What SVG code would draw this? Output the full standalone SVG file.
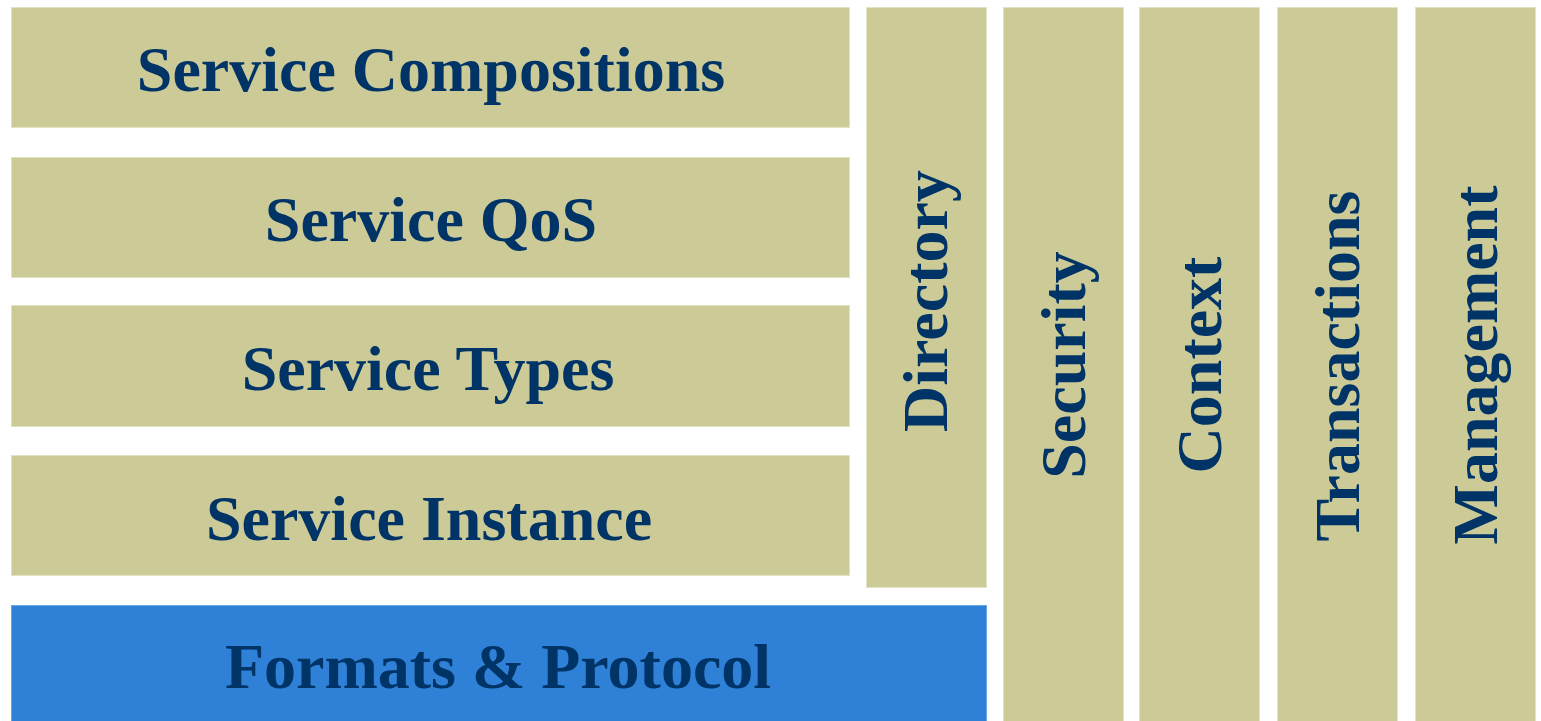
<svg xmlns="http://www.w3.org/2000/svg" width="1541" height="721" viewBox="0 0 1541 721">
<style>
.box{fill:#cccb98;stroke:#e2e2c4;stroke-width:1}
.blue{fill:#2e81d6;stroke:#6aa6e6;stroke-width:1}
.t{font-family:"Liberation Serif","Times New Roman",serif;font-weight:bold;font-size:64px;fill:#003366;text-anchor:middle}
</style>
<rect width="1541" height="721" fill="#ffffff"/>
<g id="service-compositions"><rect class="box" x="11.5" y="7.5" width="838" height="120"/><text class="t" x="431" y="91">Service Compositions</text></g>
<g id="service-qos"><rect class="box" x="11.5" y="157.5" width="838" height="120"/><text class="t" x="431" y="241">Service QoS</text></g>
<g id="service-types"><rect class="box" x="11.5" y="305.5" width="838" height="121"/><text class="t" x="428" y="390">Service Types</text></g>
<g id="service-instance"><rect class="box" x="11.5" y="455.5" width="838" height="120"/><text class="t" x="429" y="540">Service Instance</text></g>
<g id="formats-protocol"><rect class="blue" x="11.5" y="605.5" width="975" height="120"/><text class="t" x="498" y="688">Formats &amp; Protocol</text></g>
<g id="directory"><rect class="box" x="866.5" y="7.5" width="120" height="580"/><text class="t" transform="translate(947 301) rotate(-90)">Directory</text></g>
<g id="security"><rect class="box" x="1003.5" y="7.5" width="120" height="720"/><text class="t" transform="translate(1085 365) rotate(-90)">Security</text></g>
<g id="context"><rect class="box" x="1139.5" y="7.5" width="120" height="720"/><text class="t" transform="translate(1221 365) rotate(-90)">Context</text></g>
<g id="transactions"><rect class="box" x="1277.5" y="7.5" width="120" height="720"/><text class="t" transform="translate(1359 366) rotate(-90)">Transactions</text></g>
<g id="management"><rect class="box" x="1415.5" y="7.5" width="120" height="720"/><text class="t" transform="translate(1497 365) rotate(-90)">Management</text></g>
<g id="connectors"></g>
</svg>
